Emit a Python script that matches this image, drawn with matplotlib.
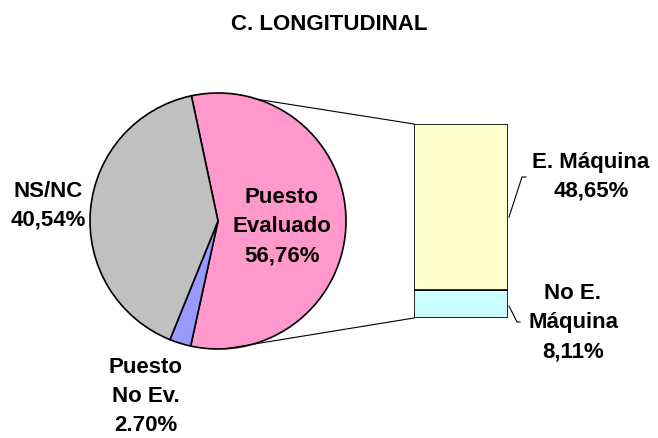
import matplotlib
matplotlib.use("Agg")
import matplotlib.pyplot as plt
from matplotlib.patches import ConnectionPatch
from matplotlib.lines import Line2D
import numpy as np

plt.rcParams['font.family'] = ['Liberation Sans', 'DejaVu Sans']

title = "C. LONGITUDINAL"
pie_labels = ["Puesto\nEvaluado\n56,76%", "Puesto\nNo Ev.\n2.70%", "NS/NC\n40,54%"]
pie_values = [56.76, 2.70, 40.54]
pie_colors = ["#FF99CC", "#9999FF", "#C0C0C0"]

bar_labels = ["No E.\nMáquina\n8,11%", "E. Máquina\n48,65%"]
bar_values = [8.11, 48.65]
bar_colors = ["#CCFFFF", "#FFFFCC"]

W, H = 658, 439
fig = plt.figure(figsize=(W / 100, H / 100), dpi=100)


def fx(px):
    return px / W


def fy(py):
    return (H - py) / H


# pie axes
cx, cy, r = 218, 222, 128
half = 1.3 * r
ax_pie = fig.add_axes([fx(cx - half), fy(cy + half), 2 * half / W, 2 * half / H])
ax_pie.pie(pie_values, colors=pie_colors, startangle=102, counterclock=False,
           wedgeprops=dict(edgecolor="black", linewidth=1.2))
ax_pie.set_xlim(-1.3, 1.3)
ax_pie.set_ylim(-1.3, 1.3)
ax_pie.set_axis_off()

# bar axes
bx0, bx1, by0, by1 = 414, 508, 125, 319
ax_bar = fig.add_axes([fx(bx0), fy(by1), (bx1 - bx0) / W, (by1 - by0) / H])
bottom = 0
for v, c in zip(bar_values, bar_colors):
    ax_bar.bar(0.5, v, width=1.0, bottom=bottom, color=c, edgecolor="black", linewidth=1.2)
    bottom += v
ax_bar.set_xlim(0, 1)
ax_bar.set_ylim(0, sum(bar_values))
ax_bar.set_axis_off()

# connecting lines
total = sum(bar_values)
for ang, yb in [(71.8, total), (273.0, 0)]:
    a = np.deg2rad(ang)
    con = ConnectionPatch(xyA=(np.cos(a), np.sin(a)), coordsA=ax_pie.transData,
                          xyB=(0, yb), coordsB=ax_bar.transData,
                          color="black", linewidth=0.8)
    fig.add_artist(con)

fs = 16
kw = dict(ha="center", va="center", fontsize=fs, fontweight="bold",
          multialignment="center", linespacing=1.5)

fig.text(fx(329), fy(24), title, ha="center", va="center", fontsize=16, fontweight="bold")

pie_pos = [(282, 227), (146, 397), (48, 206)]
for lab, (x, y) in zip(pie_labels, pie_pos):
    fig.text(fx(x), fy(y), lab, **kw)

bar_pos = [(573, 323), (591, 177)]
for lab, (x, y) in zip(bar_labels, bar_pos):
    fig.text(fx(x), fy(y), lab, **kw)

# leader lines
for pts in [[(509, 218), (522, 178), (526, 178)], [(509, 307), (517, 323), (520, 323)]]:
    xs = [fx(p[0]) for p in pts]
    ys = [fy(p[1]) for p in pts]
    fig.add_artist(Line2D(xs, ys, color="black", linewidth=0.8, transform=fig.transFigure))

fig.savefig("out.png", dpi=100)
